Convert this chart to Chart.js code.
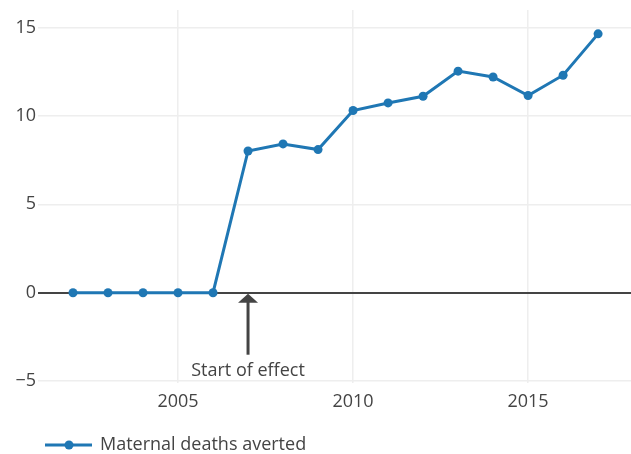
<!DOCTYPE html>
<html>
<head>
<meta charset="utf-8">
<script src="https://cdn.jsdelivr.net/npm/chart.js@4/dist/chart.umd.min.js"></script>
<style>
  html, body { margin: 0; padding: 0; background: #fff; }
  #wrap { width: 631px; height: 454px; }
</style>
</head>
<body>
<div id="wrap"><canvas id="chart" width="631" height="454"></canvas></div>
<script>
const years = [2002, 2003, 2004, 2005, 2006, 2007, 2008, 2009, 2010, 2011, 2012, 2013, 2014, 2015, 2016, 2017];
const deathsAverted = [0, 0, 0, 0, 0, 8.02, 8.42, 8.1, 10.31, 10.74, 11.12, 12.54, 12.21, 11.16, 12.31, 14.65];
const xTicks = [2005, 2010, 2015];
const yTicks = [-5, 0, 5, 10, 15];
const seriesLabel = 'Maternal deaths averted';
const annotYear = 2007;
const annotValue = 0;
const annotText = 'Start of effect';

const FONT = '"Open Sans", sans-serif';
const blue = '#1f77b4';
const dark = '#444';

// arrow + text annotation under the zero line
const annotationPlugin = {
    id: 'annot',
    afterDatasetsDraw(chart) {
        const ctx = chart.ctx;
        const x = chart.scales.x.getPixelForValue(annotYear);
        const y = chart.scales.y.getPixelForValue(annotValue) + 1;
        ctx.save();
        ctx.strokeStyle = dark;
        ctx.fillStyle = dark;
        ctx.lineWidth = 3;
        ctx.beginPath();
        ctx.moveTo(x, y + 61);
        ctx.lineTo(x, y + 6);
        ctx.stroke();
        ctx.beginPath();
        ctx.moveTo(x, y);
        ctx.lineTo(x - 10, y + 9);
        ctx.lineTo(x + 10, y + 9);
        ctx.closePath();
        ctx.fill();
        ctx.font = '18px ' + FONT;
        ctx.textAlign = 'center';
        ctx.textBaseline = 'middle';
        ctx.fillText(annotText, x, y + 77);
        ctx.restore();
    }
};

// plotly style legend: line with a marker in the middle
const legendPlugin = {
    id: 'plotlyLegend',
    afterDraw(chart) {
        const ctx = chart.ctx;
        const y = 445;
        ctx.save();
        ctx.strokeStyle = blue;
        ctx.lineWidth = 3;
        ctx.beginPath();
        ctx.moveTo(45, y);
        ctx.lineTo(92, y);
        ctx.stroke();
        ctx.fillStyle = blue;
        ctx.beginPath();
        ctx.arc(69, y, 4.5, 0, Math.PI * 2);
        ctx.fill();
        ctx.fillStyle = dark;
        ctx.font = '18px ' + FONT;
        ctx.textAlign = 'left';
        ctx.textBaseline = 'middle';
        ctx.fillText(chart.data.datasets[0].label, 100, y);
        ctx.restore();
    }
};

// drop the label padding chart.js adds, so the plot area is set by layout only
function noPad(s) {
    s.paddingTop = 0;
    s.paddingBottom = 0;
    s.paddingLeft = 0;
    s.paddingRight = 0;
}

new Chart(document.getElementById('chart').getContext('2d'), {
    type: 'line',
    data: {
        datasets: [{
            label: seriesLabel,
            data: years.map((yr, i) => ({ x: yr, y: deathsAverted[i] })),
            borderColor: blue,
            backgroundColor: blue,
            borderWidth: 3,
            pointRadius: 4.5,
            pointHoverRadius: 4.5,
            pointBorderWidth: 0,
            tension: 0,
            clip: false
        }]
    },
    options: {
        responsive: false,
        animation: false,
        layout: { autoPadding: false, padding: { top: 10, right: 0, left: 0, bottom: 0 } },
        plugins: {
            legend: { display: false },
            tooltip: { enabled: false }
        },
        scales: {
            x: {
                type: 'linear',
                min: 2001,
                max: 2017.94,
                afterBuildTicks: s => { s.ticks = xTicks.map(v => ({ value: v })); },
                afterFit: s => { s.height = 71; noPad(s); },
                border: { display: false },
                grid: { color: '#eeeeee', lineWidth: 1.5, drawTicks: false },
                ticks: {
                    padding: 8,
                    color: dark,
                    font: { family: FONT, size: 18 },
                    maxRotation: 0,
                    callback: v => String(v)
                }
            },
            y: {
                min: -5.11,
                max: 16.0,
                afterBuildTicks: s => { s.ticks = yTicks.map(v => ({ value: v })); },
                afterFit: s => { s.width = 38; noPad(s); },
                border: { display: false },
                grid: {
                    color: c => c.tick && c.tick.value === 0 ? dark : '#eeeeee',
                    lineWidth: c => c.tick && c.tick.value === 0 ? 2 : 1.5,
                    drawTicks: false
                },
                ticks: {
                    padding: 2,
                    color: dark,
                    font: { family: FONT, size: 18 },
                    callback: v => v < 0 ? '\u2212' + Math.abs(v) : String(v)
                }
            }
        }
    },
    plugins: [annotationPlugin, legendPlugin]
});
</script>
</body>
</html>
